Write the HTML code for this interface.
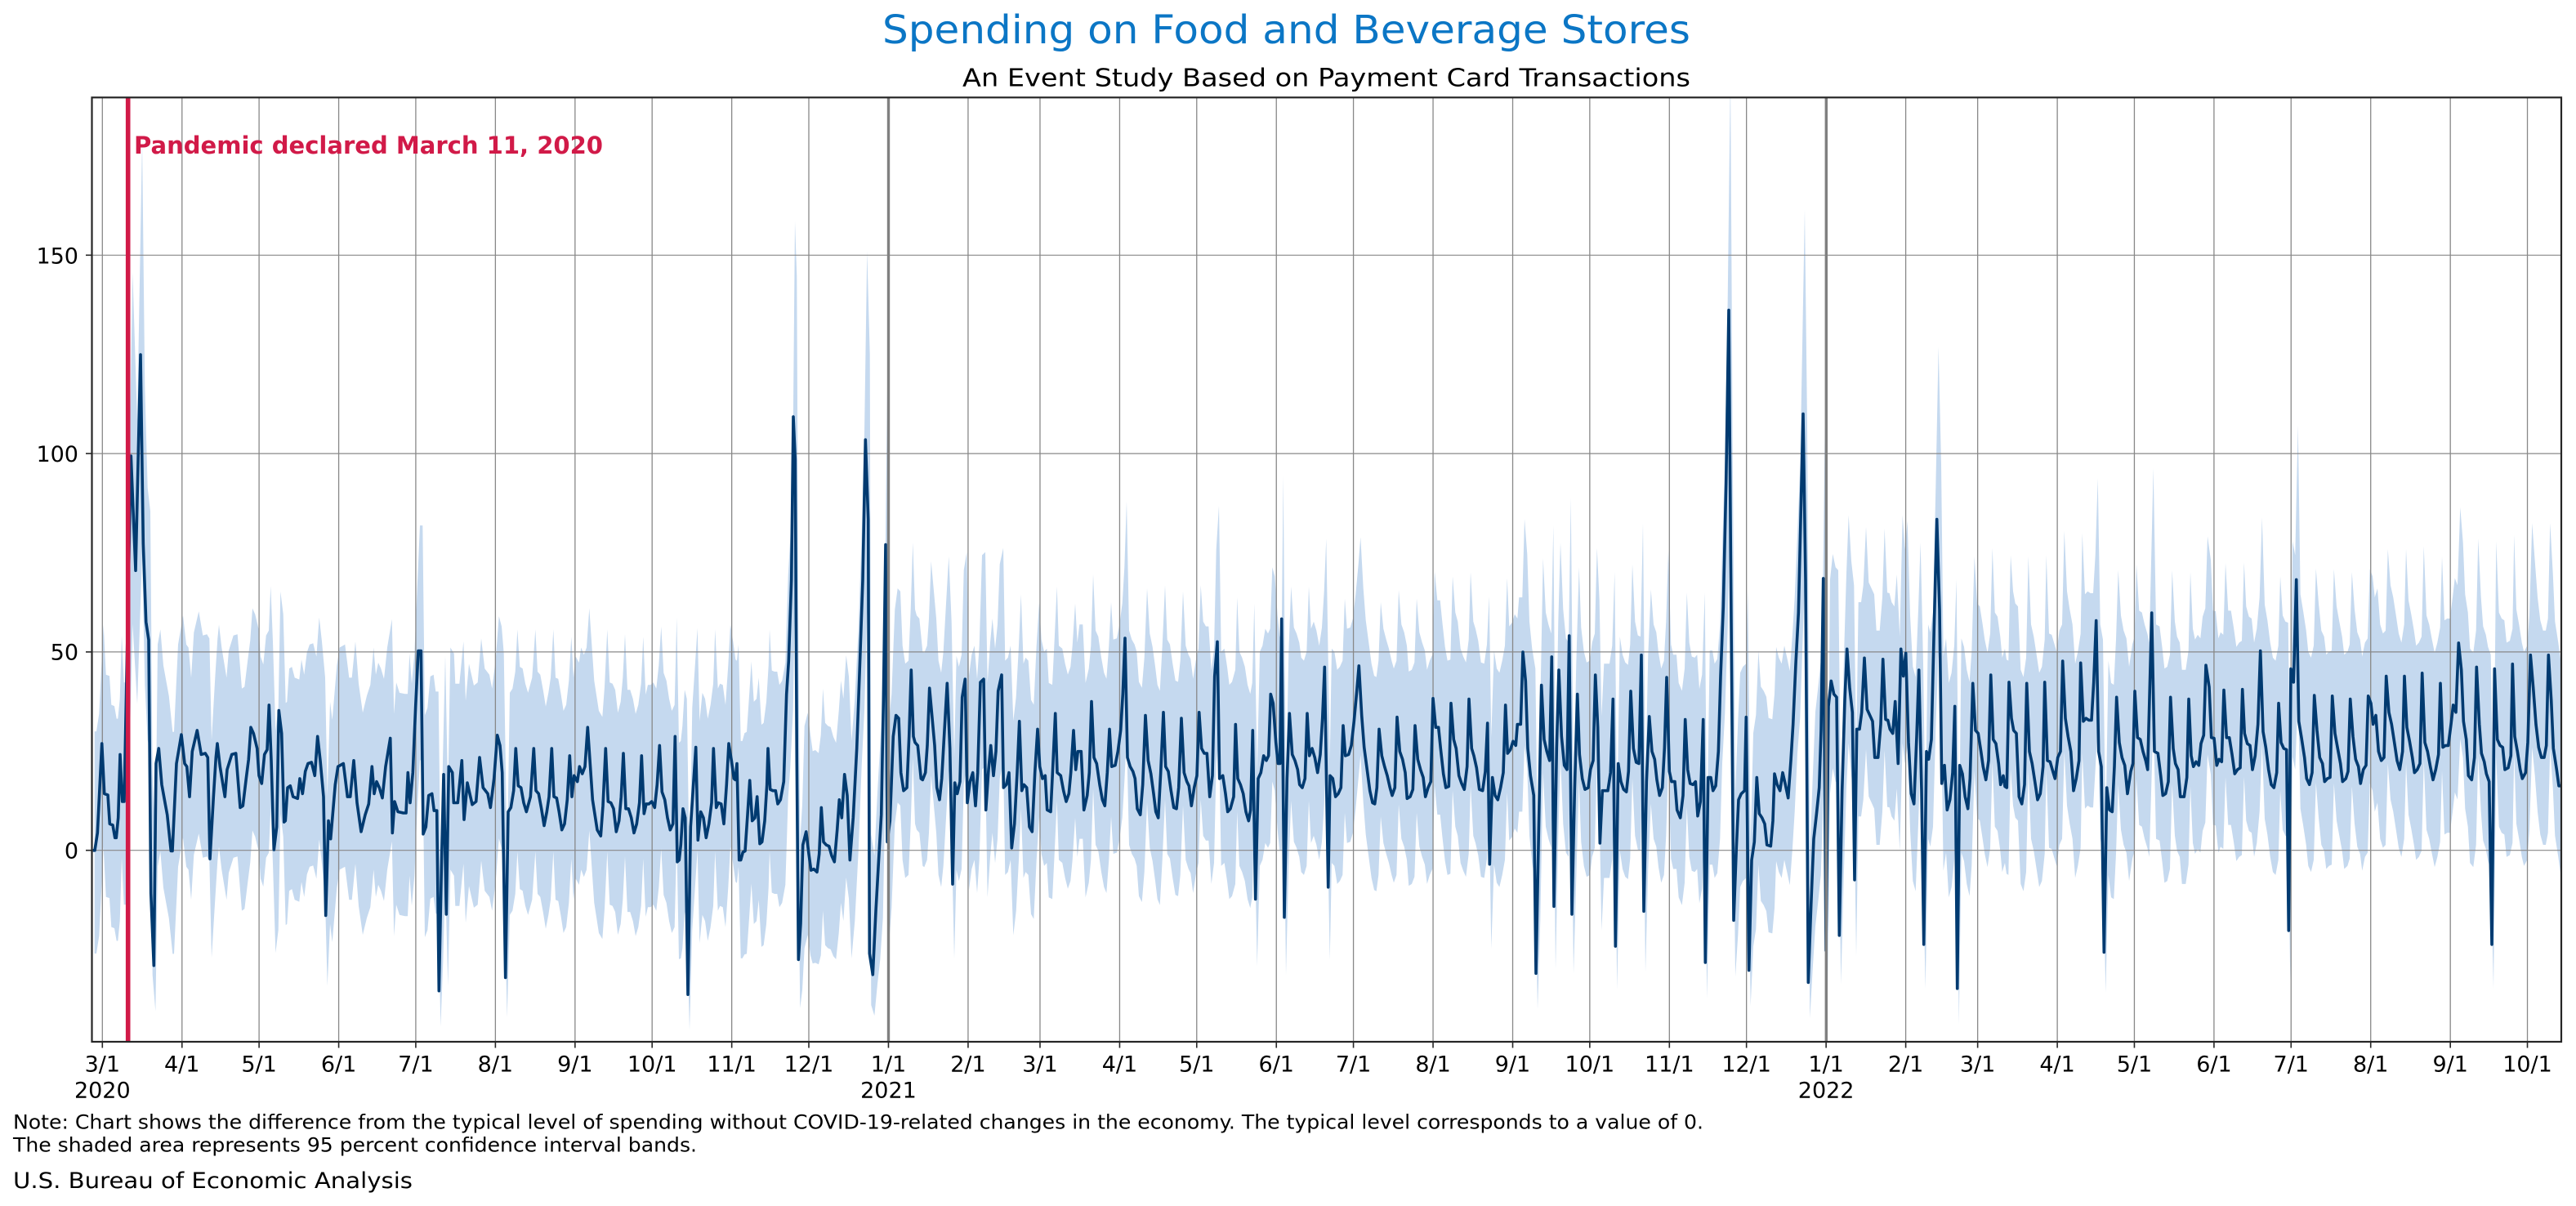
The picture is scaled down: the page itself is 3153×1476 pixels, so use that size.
<!DOCTYPE html>
<html><head><meta charset="utf-8"><style>
html,body{margin:0;padding:0;background:#fff;}
svg{display:block;}
text{font-family:"DejaVu Sans","Liberation Sans",sans-serif;}
</style></head><body>
<svg id="s" width="3153" height="1476" viewBox="0 0 3153 1476" xmlns="http://www.w3.org/2000/svg">
<defs><clipPath id="cp"><rect x="112.5" y="119.3" width="3022.5" height="1155.7"/></clipPath></defs>
<rect width="3153" height="1476" fill="#fff"/>
<text x="2069" y="53" text-anchor="end" font-size="48" fill="#0b76c5" textLength="989" lengthAdjust="spacingAndGlyphs">Spending on Food and Beverage Stores</text>
<text x="2069" y="105.5" text-anchor="end" font-size="30.5" fill="#000" textLength="891" lengthAdjust="spacingAndGlyphs">An Event Study Based on Payment Card Transactions</text>
<g clip-path="url(#cp)">
<path id="band" fill="#c5d9ef" stroke="none" d=""/>
<g stroke="#888" stroke-width="1.3" id="vgrid"></g>
<g stroke="#888" stroke-width="1.2">
<line x1="112.5" x2="3135" y1="1040.7" y2="1040.7"/>
<line x1="112.5" x2="3135" y1="797.9" y2="797.9"/>
<line x1="112.5" x2="3135" y1="555.1" y2="555.1"/>
<line x1="112.5" x2="3135" y1="312.3" y2="312.3"/>
</g>
<path id="ln" fill="none" stroke="#003a70" stroke-width="3.6" stroke-linejoin="round" stroke-linecap="butt" d=""/>
<line x1="1087.5" x2="1087.5" y1="119" y2="1275" stroke="#808080" stroke-width="3.4"/>
<line x1="2235.3" x2="2235.3" y1="119" y2="1275" stroke="#808080" stroke-width="3.4"/>
<line x1="156.7" x2="156.7" y1="119" y2="1275" stroke="#d11a48" stroke-width="5.6"/>
</g>
<text x="164" y="188" font-size="29.5" font-weight="bold" fill="#d11a48" textLength="574" lengthAdjust="spacingAndGlyphs">Pandemic declared March 11, 2020</text>
<rect x="112.5" y="119.3" width="3022.5" height="1155.7" fill="none" stroke="#262626" stroke-width="2.2"/>
<g stroke="#262626" stroke-width="1.6">
<line x1="105" x2="112.5" y1="1040.7" y2="1040.7"/>
<line x1="105" x2="112.5" y1="797.9" y2="797.9"/>
<line x1="105" x2="112.5" y1="555.1" y2="555.1"/>
<line x1="105" x2="112.5" y1="312.3" y2="312.3"/>
</g>
<g font-size="27" text-anchor="end" fill="#000">
<text x="96" y="1050.5">0</text>
<text x="96" y="807.7">50</text>
<text x="96" y="564.9">100</text>
<text x="96" y="322.3">150</text>
</g>
<g id="xt" font-size="27" text-anchor="middle" fill="#000"></g>
<g id="xm" stroke="#262626" stroke-width="1.6"></g>
<text x="16" y="1381.7" font-size="24" fill="#000" textLength="2069" lengthAdjust="spacingAndGlyphs">Note: Chart shows the difference from the typical level of spending without COVID-19-related changes in the economy. The typical level corresponds to a value of 0.</text>
<text x="16" y="1409.5" font-size="24" fill="#000" textLength="837" lengthAdjust="spacingAndGlyphs">The shaded area represents 95 percent confidence interval bands.</text>
<text x="16" y="1454" font-size="26.5" fill="#000" textLength="489" lengthAdjust="spacingAndGlyphs">U.S. Bureau of Economic Analysis</text>
</svg>
<script>
(function(){
var NS="http://www.w3.org/2000/svg";
var ticks=[[0,'3/1','2020'],[31,'4/1'],[61,'5/1'],[92,'6/1'],[122,'7/1'],[153,'8/1'],[184,'9/1'],[214,'10/1'],[245,'11/1'],[275,'12/1'],[306,'1/1','2021'],[337,'2/1'],[365,'3/1'],[396,'4/1'],[426,'5/1'],[457,'6/1'],[487,'7/1'],[518,'8/1'],[549,'9/1'],[579,'10/1'],[610,'11/1'],[640,'12/1'],[671,'1/1','2022'],[702,'2/1'],[730,'3/1'],[761,'4/1'],[791,'5/1'],[822,'6/1'],[852,'7/1'],[883,'8/1'],[914,'9/1'],[944,'10/1']];
var vg=document.getElementById('vgrid'),xt=document.getElementById('xt'),xm=document.getElementById('xm');
ticks.forEach(function(t){
 var X=125.3+3.1443*t[0];
 var l=document.createElementNS(NS,'line');l.setAttribute('x1',X);l.setAttribute('x2',X);l.setAttribute('y1',119);l.setAttribute('y2',1275);vg.appendChild(l);
 var m=document.createElementNS(NS,'line');m.setAttribute('x1',X);m.setAttribute('x2',X);m.setAttribute('y1',1275);m.setAttribute('y2',1282.5);xm.appendChild(m);
 var tx=document.createElementNS(NS,'text');tx.setAttribute('x',X);tx.setAttribute('y',1311.7);tx.textContent=t[1];xt.appendChild(tx);
 if(t[2]){var ty=document.createElementNS(NS,'text');ty.setAttribute('x',X);ty.setAttribute('y',1343.3);ty.textContent=t[2];xt.appendChild(ty);}
});
var S=[
[112,"5,1249 12,1249 22,1220 38,1072 47,1155 60,1157 67,1205 78,1207 86,1228 91,1228 98,1195 105,1090 113,1168 120,1168 145,595 162,785 180,427 190,740 200,870 210,900 218,1320 229,1440 237,1105 247,1080 258,1140 270,1170 278,1190 292,1250 297,1250 312,1105 330,1057 342,1105 350,1110 360,1160 370,1085 388,1050 403,1090 418,1088 427,1095 435,1263 448,1160 457,1095 462,1072 472,1110 490,1160 498,1115 515,1090 530,1088 546,1178 556,1175 568,1130 577,1098 585,1045 595,1055 608,1080 615,1125 625,1138 635,1090 645,1082 652,1008 660,1100 670,1248 680,1210 688,1017 698,1055 707,1202 712,1200 720,1145 730,1142 740,1160 757,1163 765,1130 775,1155 785,1118 795,1105 808,1103 820,1125 830,1060 840,1100 852,1160 860,1357 870,1200 878,1230 895,1140 905,1110 925,1105 940,1160 950,1160 963,1100 975,1170 990,1218 1005,1190 1018,1172 1030,1110 1038,1155 1047,1135 1057,1145 1068,1162 1080,1110 1097,1063 1105,1220 1113,1168 1125,1185 1145,1187 1155,1187 1162,1120 1170,1170 1180,1120 1190,1010 1200,918 1210,918 1218,1222 1228,1210 1238,1158 1250,1155 1258,1183 1268,1183 1276,1482 1285,1280 1293,1123 1303,1355 1312,1110 1325,1120 1330,1170 1345,1170 1360,1100 1368,1198 1380,1137 1398,1173 1412,1168 1425,1095 1438,1145 1455,1155 1465,1178 1478,1130 1490,1058 1500,1075 1508,1120"],
[616,"8,1460 18,1185 28,1178 38,1150 46,1080 55,1142 65,1145 75,1170 85,1185 100,1160 112,1080 120,1150 130,1155 140,1180 150,1208 160,1185 168,1160 178,1080 186,1160 196,1162 205,1185 215,1215 225,1205 235,1165 244,1092 252,1160 260,1125 272,1135 280,1110 290,1122 300,1110 310,1045 328,1165 345,1215 358,1225 366,1175 376,1080 385,1168 395,1170 405,1180 415,1218 425,1200 433,1160 441,1088 450,1180 460,1180 470,1195 480,1220 490,1205 500,1170 508,1092 517,1188 525,1172 535,1172 545,1168 556,1178 565,1140 574,1075 583,1152 593,1165 603,1195 613,1215 623,1205 631,1060 639,1268 646,1265 652,1240 660,1180 668,1195 678,1488 688,1210 698,1140 707,1078 715,1232 725,1185 735,1195 745,1228 755,1205 765,1170 772,1080 782,1178 790,1170 800,1172 810,1205 820,1140 828,1072 838,1100 847,1130 852,1132 858,1105 866,1265 872,1265 880,1252 888,1250 897,1190 905,1133 914,1200 924,1195 932,1160 942,1238 950,1235 960,1200 968,1140 972,1080 980,1148 990,1150 1000,1150 1008,1172 1018,1165 1030,1135 1040,990 1048,935 1058,800 1065,530 1072,600 1078,1100 1084,1430 1092,1370 1100,1240 1112,1218 1122,1255 1130,1282 1140,1280 1152,1285 1160,1255 1168,1178 1176,1235 1186,1240 1196,1242 1206,1258 1216,1268 1226,1215 1234,1165 1243,1195 1253,1123 1263,1158 1273,1265 1285,1195 1298,1080 1310,930 1320,800 1330,568 1340,700 1345,1420 1357,1455 1368,1350 1378,1270 1388,1190 1396,1000 1404,742 1410,1235 1420,1200 1432,1060 1442,1025 1452,1030 1460,1120 1470,1150 1482,1145 1490,1060 1498,950 1506,1060 1512,1070"],
[1120,"10,1075 22,1130 28,1132 38,1120 45,1075 53,980 62,1025 72,1075 80,1145 90,1165 98,1130 108,1050 118,972 128,1080 138,1305 146,1137 155,1155 165,1135 173,995 184,965 192,1170 202,1135 212,1120 222,1175 230,1120 240,970 252,965 260,1182 270,1115 278,1075 288,1125 297,1085 305,985 318,958 325,1145 335,1140 345,1120 355,1245 365,1205 375,1120 383,1035 392,1150 400,1140 410,1145 420,1210 430,1218 440,1120 450,1048 458,1110 468,1130 478,1125 485,1182 498,1185 506,1110 515,1022 522,1120 535,1125 545,1150 555,1168 565,1155 572,1120 582,1050 590,1115 598,1085 610,1085 620,1182 632,1158 640,1120 648,1002 657,1095 667,1105 678,1140 688,1165 697,1175 706,1120 714,1048 722,1110 735,1108 745,1085 755,1050 763,990 771,897 780,1095 790,1110 800,1118 808,1130 816,1180 827,1190 836,1140 846,1025 856,1100 866,1122 876,1155 884,1185 893,1195 902,1120 912,1020 920,1110 930,1118 940,1150 950,1178 960,1180 968,1145 978,1030 988,1120 998,1135 1006,1142 1015,1175 1025,1145 1035,1125 1043,1020 1052,1080 1062,1088 1072,1088 1082,1160 1092,1125 1100,960 1110,903 1118,1130 1130,1125 1140,1155 1148,1185 1158,1180 1170,1160 1177,1040 1185,1130 1195,1140 1205,1155 1215,1185 1225,1200 1232,1182 1240,1050 1250,1330 1260,1130 1270,1120 1280,1092 1290,1100 1298,1092 1306,990 1315,1005 1325,1070 1333,1105 1340,1105 1346,865 1356,1360 1366,1130 1375,1022 1385,1090 1395,1100 1405,1115 1412,1140 1422,1145 1432,1130 1440,1022 1448,1092 1458,1080 1468,1095 1478,1120 1488,1090 1496,1030 1504,945"],
[1624,"5,1310 12,1125 22,1130 32,1160 42,1155 52,1145 60,1042 68,1092 80,1090 90,1075 100,1035 110,985 118,943 128,1025 137,1078 148,1115 158,1150 168,1170 176,1172 184,1145 192,1048 202,1092 212,1110 222,1125 232,1145 240,1158 250,1145 258,1028 268,1085 278,1098 288,1120 295,1163 306,1160 316,1148 324,1042 334,1098 344,1115 354,1128 362,1160 372,1145 382,1135 390,997 400,1045 410,1045 418,1080 428,1122 437,1145 448,1143 456,1005 466,1065 475,1080 485,1125 495,1138 505,1148 515,1110 522,998 532,1080 540,1092 550,1112 560,1148 572,1150 582,1118 590,1038 598,1272 608,1128 618,1158 628,1165 638,1145 648,1120 656,1008 664,1088 674,1082 684,1068 694,1075 700,1040 712,1040 720,920 730,968 738,1080 748,1125 760,1158 768,1453 778,1220 788,975 798,1065 808,1085 818,1100 826,928 834,1342 844,1080 852,950 862,1060 872,1108 882,1115 890,893 900,1355 910,1150 920,990 928,1090 938,1130 948,1148 960,1145 968,1115 978,1100 986,958 995,1045 1003,1237 1012,1150 1022,1150 1032,1150 1042,1120 1051,998 1060,1408 1070,1105 1080,1135 1090,1148 1100,1152 1108,1118 1116,985 1126,1080 1136,1103 1146,1105 1155,925 1164,1350 1174,1135 1184,1027 1194,1085 1204,1098 1212,1132 1222,1158 1232,1145 1240,1080 1248,962 1258,1118 1266,1135 1278,1135 1286,1182 1298,1195 1308,1158 1316,1032 1325,1115 1334,1138 1345,1140 1354,1135 1362,1192 1372,1168 1382,1032 1390,1435 1400,1128 1410,1128 1418,1150 1428,1142 1438,1085 1446,960 1456,845 1466,640 1476,353 1484,820 1494,1365 1504,1245 1512,1165"],
[2128,"10,1155 22,1150 28,1028 38,1448 48,1265 58,1235 67,1128 76,1188 86,1195 96,1205 104,1240 118,1242 126,1200 132,1122 142,1140 152,1150 162,1120 172,1140 182,1162 192,1100 200,1040 210,940 220,855 228,700 237,525 246,800 256,1468 266,1340 276,1230 286,1190 296,1145 303,1050 311,798 321,1415 330,1010 340,968 350,990 360,995 370,1390 380,1150 390,1000 398,915 408,980 418,1020 426,1298 434,1048 444,1048 452,1020 462,930 472,1015 482,1025 492,1035 500,1095 512,1095 522,1040 530,932 540,1032 548,1033 556,1048 566,1055 575,1002 586,1105 596,915 605,960 614,922 624,1070 634,1155 644,1172 654,1060 662,950 672,1150 680,1405 690,1085 698,1098 708,1065 718,880 728,700 738,850 746,1138 756,1108 766,1182 776,1165 786,1120 794,1010 803,1478 812,1108 822,1122 832,1160 842,1180 850,1130 860,972 870,1050 880,1055 890,1085 898,1110 908,1132 918,1100 926,958 935,1065 945,1072 955,1105 962,1140 972,1125 978,1143 985,1145 993,970 1002,1030 1010,1050 1020,1055 1030,1160 1040,1172 1050,1140 1058,972 1068,1085 1078,1105 1088,1135 1098,1165 1108,1155 1118,1110 1124,970 1134,1100 1144,1102 1154,1118 1162,1130 1172,1095 1182,1085 1190,935 1200,1030 1210,1060 1220,1085 1230,1150 1240,1130 1250,1100 1256,938 1266,1035 1276,1030 1286,1033 1296,1033 1304,970 1313,868 1322,1085 1332,1110 1342,1418 1352,1145 1362,1182 1372,1185 1380,1110 1388,995 1398,1070 1408,1095 1418,1108 1428,1155 1440,1118 1448,1105 1455,985 1465,1062 1475,1065 1485,1085 1495,1100 1502,1115"],
[2632,"5,855 15,1085 28,1088 38,1125 46,1158 56,1155 66,1135 74,995 84,1080 92,1105 102,1115 110,1160 124,1160 134,1128 141,998 150,1092 158,1110 168,1102 178,1108 186,1072 196,1058 204,942 216,978 224,1062 234,1063 244,1108 252,1098 262,1102 270,983 280,1062 290,1062 300,1090 310,1122 320,1115 330,1112 338,982 346,1055 356,1072 366,1075 375,1115 385,1092 395,1040 404,918 414,1052 424,1078 434,1115 444,1140 454,1145 464,1120 471,1005 480,1070 490,1080 500,1082 508,1382 516,948 526,970 536,800 545,1035 555,1062 566,1095 574,1130 584,1140 594,1120 602,992 612,1050 622,1095 632,1105 640,1135 650,1130 660,1128 668,993 678,1055 688,1080 698,1105 706,1135 718,1130 726,1118 734,998 744,1060 754,1098 764,1110 772,1138 782,1115 792,1108 800,993 810,1005 818,1040 828,1025 838,1085 848,1100 858,1095 866,960 876,1020 886,1040 896,1070 906,1100 916,1115 926,1085 933,960 942,1045 952,1068 962,1095 970,1120 980,1115 990,1105 998,955 1008,1070 1018,1085 1028,1110 1038,1132 1048,1115 1058,1090 1065,972 1074,1078 1084,1075 1094,1075 1104,1040 1112,1008 1122,1020 1132,905 1142,950 1150,1035 1160,1065 1168,1125 1180,1132 1190,1095 1198,945 1208,1040 1216,1088 1226,1102 1234,1122 1244,1135 1254,1405 1264,948 1274,1065 1284,1075 1294,1078 1302,1115 1314,1112 1324,1092 1330,940 1338,1060 1348,1085 1358,1115 1366,1130 1378,1120 1386,1070 1396,925 1406,980 1416,1040 1426,1078 1436,1095 1446,1095 1454,1075 1462,925 1472,1000 1480,1080 1492,1115 1500,1142 1508,1142"]
];
var pts=[];
S.forEach(function(sl){var x0=sl[0];sl[1].trim().split(/\s+/).forEach(function(p){var q=p.split(',');pts.push([x0+(+q[0])/3,119+(+q[1])/1.355]);});});
var Y0=1040.7,K=4.856;
var d='M'+pts.map(function(p){return p[0].toFixed(1)+','+p[1].toFixed(1);}).join('L');
document.getElementById('ln').setAttribute('d',d);
var up=[],lo=[];
pts.forEach(function(p){
 var x=p[0],v=(Y0-p[1])/K,early=x<1087;
 var ex=Math.max(0,v-45)*0.3;
 var U=(early?30:32)+ex;
 var L=v<0?Math.max(9,(early?26:23)+0.5*v):(early?26:22)+ex;
 up.push([x+2,Y0-(v+U)*K]);lo.push([x+2,Y0-(v-L)*K]);
});
var b='M'+up.map(function(p){return p[0].toFixed(1)+','+p[1].toFixed(1);}).join('L');
b+='L'+lo.reverse().map(function(p){return p[0].toFixed(1)+','+p[1].toFixed(1);}).join('L')+'Z';
document.getElementById('band').setAttribute('d',b);
})();
</script>
</body></html>
